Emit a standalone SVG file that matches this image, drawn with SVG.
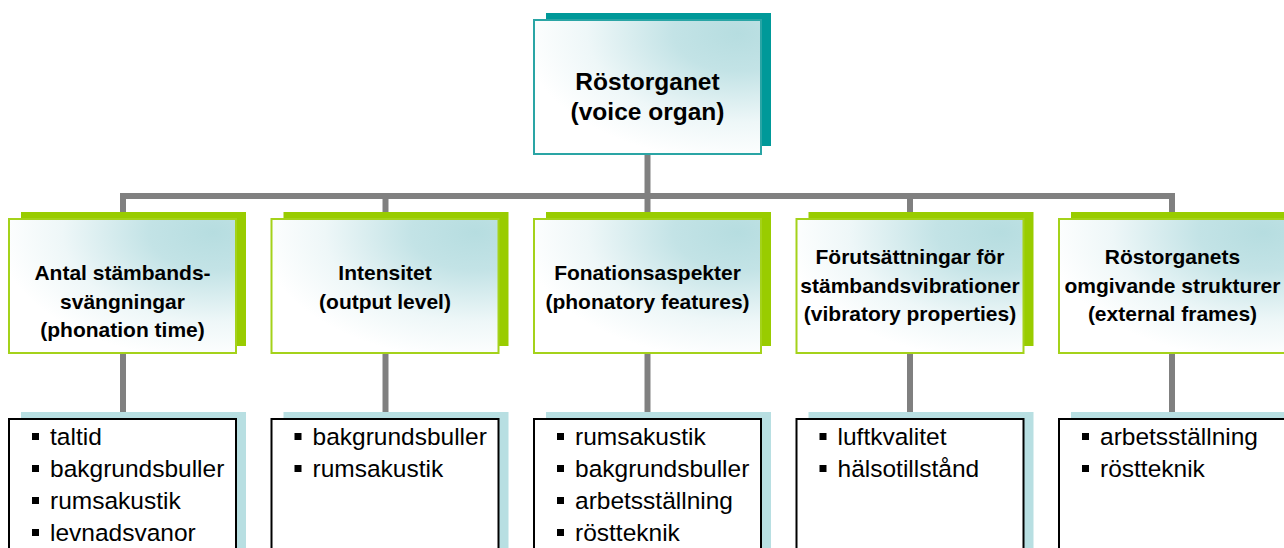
<svg xmlns="http://www.w3.org/2000/svg" width="1284" height="548" viewBox="0 0 1284 548">
<defs>
<radialGradient id="fill" cx="0.9" cy="0.1" r="0.95">
<stop offset="0" stop-color="#b6dde0"/>
<stop offset="0.3" stop-color="#c3e3e6"/>
<stop offset="0.7" stop-color="#eef7f8"/>
<stop offset="1" stop-color="#ffffff"/>
</radialGradient>
<style>
.conn{stroke:#808080;stroke-width:6;fill:none;stroke-linecap:butt}
.tshadow{fill:#009999}
.tbox{fill:url(#fill);stroke:#2aa5a5;stroke-width:2}
.gshadow{fill:#99cc00}
.gbox{fill:url(#fill);stroke:#a4d21a;stroke-width:2}
.bshadow{fill:#b8dfe2}
.bbox{fill:#ffffff;stroke:#000000;stroke-width:2}
.title{font-family:"Liberation Sans",Arial,sans-serif;font-weight:bold;font-size:24.5px;fill:#000;text-anchor:middle}
.head{font-family:"Liberation Sans",Arial,sans-serif;font-weight:bold;font-size:21px;fill:#000;text-anchor:middle}
.item{font-family:"Liberation Sans",Arial,sans-serif;font-size:24.5px;fill:#000}
.bul{fill:#000}
</style>
</defs>
<rect width="1284" height="548" fill="#ffffff"/>
<g id="connectors">
<line class="conn" x1="647.5" y1="154" x2="647.5" y2="196"/>
<polyline class="conn" points="123,212 123,196 1172,196 1172,212"/>
<line class="conn" x1="385.5" y1="196" x2="385.5" y2="212"/>
<line class="conn" x1="647.5" y1="196" x2="647.5" y2="212"/>
<line class="conn" x1="910" y1="196" x2="910" y2="212"/>
<line class="conn" x1="123" y1="353" x2="123" y2="412"/>
<line class="conn" x1="385.5" y1="353" x2="385.5" y2="412"/>
<line class="conn" x1="647.5" y1="353" x2="647.5" y2="412"/>
<line class="conn" x1="910" y1="353" x2="910" y2="412"/>
<line class="conn" x1="1172" y1="353" x2="1172" y2="412"/>
</g>
<g id="root">
<rect class="tshadow" x="546" y="13" width="225" height="133"/>
<rect class="tbox" x="534" y="20" width="227" height="134"/>
<text class="title" x="647.5" y="90">Röstorganet</text>
<text class="title" x="647.5" y="120">(voice organ)</text>
</g>
<g id="n1">
<rect class="gshadow" x="21" y="212" width="225" height="134"/>
<rect class="gbox" x="9" y="219" width="227" height="134"/>
<text class="head" x="122.5" y="280">Antal stämbands-</text>
<text class="head" x="122.5" y="308.5">svängningar</text>
<text class="head" x="122.5" y="337">(phonation time)</text>
</g>
<g id="n2">
<rect class="gshadow" x="283.5" y="212" width="225" height="134"/>
<rect class="gbox" x="271.5" y="219" width="227" height="134"/>
<text class="head" x="385" y="280">Intensitet</text>
<text class="head" x="385" y="308.5">(output level)</text>
</g>
<g id="n3">
<rect class="gshadow" x="546" y="212" width="225" height="134"/>
<rect class="gbox" x="534" y="219" width="227" height="134"/>
<text class="head" x="647.5" y="280">Fonationsaspekter</text>
<text class="head" x="647.5" y="308.5">(phonatory features)</text>
</g>
<g id="n4">
<rect class="gshadow" x="808.5" y="212" width="225" height="134"/>
<rect class="gbox" x="796.5" y="219" width="227" height="134"/>
<text class="head" x="910" y="264">Förutsättningar för</text>
<text class="head" x="910" y="292.5">stämbandsvibrationer</text>
<text class="head" x="910" y="321">(vibratory properties)</text>
</g>
<g id="n5">
<rect class="gshadow" x="1071" y="212" width="225" height="134"/>
<rect class="gbox" x="1059" y="219" width="227" height="134"/>
<text class="head" x="1172.5" y="264">Röstorganets</text>
<text class="head" x="1172.5" y="292.5">omgivande strukturer</text>
<text class="head" x="1172.5" y="321">(external frames)</text>
</g>
<g id="l1">
<rect class="bshadow" x="21" y="412" width="225" height="150"/>
<rect class="bbox" x="9" y="419" width="227" height="150"/>
<rect class="bul" x="32" y="433" width="7" height="7"/><text class="item" x="50" y="445">taltid</text>
<rect class="bul" x="32" y="465" width="7" height="7"/><text class="item" x="50" y="477">bakgrundsbuller</text>
<rect class="bul" x="32" y="497" width="7" height="7"/><text class="item" x="50" y="509">rumsakustik</text>
<rect class="bul" x="32" y="529" width="7" height="7"/><text class="item" x="50" y="541">levnadsvanor</text>
</g>
<g id="l2">
<rect class="bshadow" x="283.5" y="412" width="225" height="150"/>
<rect class="bbox" x="271.5" y="419" width="227" height="150"/>
<rect class="bul" x="294.5" y="433" width="7" height="7"/><text class="item" x="312.5" y="445">bakgrundsbuller</text>
<rect class="bul" x="294.5" y="465" width="7" height="7"/><text class="item" x="312.5" y="477">rumsakustik</text>
</g>
<g id="l3">
<rect class="bshadow" x="546" y="412" width="225" height="150"/>
<rect class="bbox" x="534" y="419" width="227" height="150"/>
<rect class="bul" x="557" y="433" width="7" height="7"/><text class="item" x="575" y="445">rumsakustik</text>
<rect class="bul" x="557" y="465" width="7" height="7"/><text class="item" x="575" y="477">bakgrundsbuller</text>
<rect class="bul" x="557" y="497" width="7" height="7"/><text class="item" x="575" y="509">arbetsställning</text>
<rect class="bul" x="557" y="529" width="7" height="7"/><text class="item" x="575" y="541">röstteknik</text>
</g>
<g id="l4">
<rect class="bshadow" x="808.5" y="412" width="225" height="150"/>
<rect class="bbox" x="796.5" y="419" width="227" height="150"/>
<rect class="bul" x="819.5" y="433" width="7" height="7"/><text class="item" x="837.5" y="445">luftkvalitet</text>
<rect class="bul" x="819.5" y="465" width="7" height="7"/><text class="item" x="837.5" y="477">hälsotillstånd</text>
</g>
<g id="l5">
<rect class="bshadow" x="1071" y="412" width="225" height="150"/>
<rect class="bbox" x="1059" y="419" width="227" height="150"/>
<rect class="bul" x="1082" y="433" width="7" height="7"/><text class="item" x="1100" y="445">arbetsställning</text>
<rect class="bul" x="1082" y="465" width="7" height="7"/><text class="item" x="1100" y="477">röstteknik</text>
</g>
</svg>
